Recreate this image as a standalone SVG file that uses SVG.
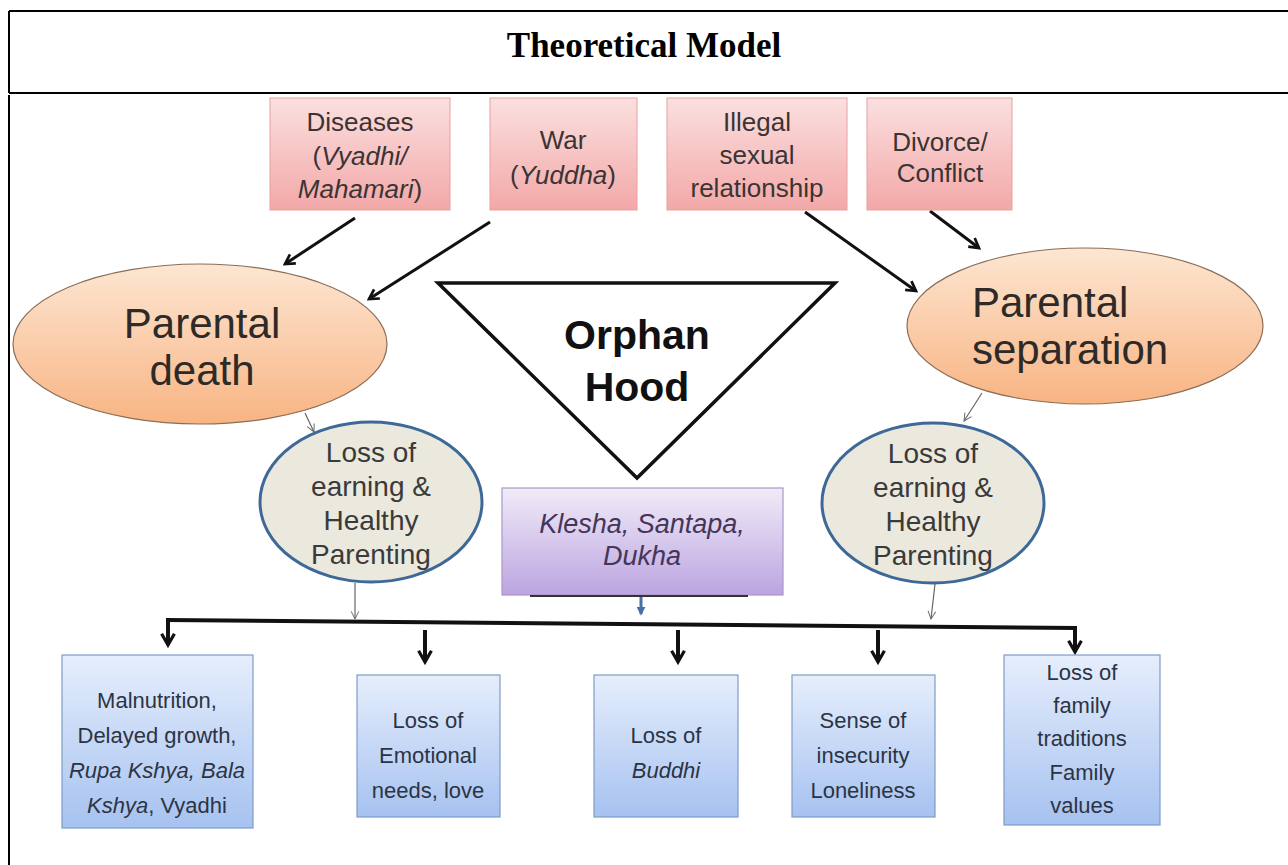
<svg xmlns="http://www.w3.org/2000/svg" width="1288" height="865" viewBox="0 0 1288 865">
<style>
.frame{fill:none;stroke:#000;stroke-width:2}
.title{font-family:"Liberation Serif","Times New Roman",serif;font-weight:bold;font-size:35px;fill:#000}
.t{font-family:"Liberation Sans",Arial,sans-serif;fill:#3a3a3a;text-anchor:middle}
.pk{font-size:26px;fill:#3a3434}
.big{font-size:42px;fill:#2e2a28}
.orph{font-size:41px;font-weight:bold;fill:#111}
.ls{font-size:28px;fill:#3a3a3a}
.kl{font-size:27px;font-style:italic;fill:#45355a}
.bl{font-size:22px;fill:#2c3444}
.i{font-style:italic}
.pink{fill:url(#gPink);stroke:#e8a0a0;stroke-width:1}
.blue{fill:url(#gBlue);stroke:#7e9cc8;stroke-width:1.2}
.arr{fill:none;stroke:#111;stroke-width:3;marker-end:url(#mBlk)}
.arrB{fill:none;stroke:#111;stroke-width:4;marker-end:url(#mBlk2)}
.thin{fill:none;stroke:#666;stroke-width:1.2;marker-end:url(#mThin)}
</style>
<defs>
<linearGradient id="gPink" x1="0" y1="0" x2="0" y2="1"><stop offset="0" stop-color="#fbe0e0"/><stop offset="1" stop-color="#f3a8a8"/></linearGradient>
<linearGradient id="gOrange" x1="0" y1="0" x2="0" y2="1"><stop offset="0" stop-color="#fde6d2"/><stop offset="1" stop-color="#f8b483"/></linearGradient>
<linearGradient id="gPurple" x1="0" y1="0" x2="0" y2="1"><stop offset="0" stop-color="#f1ecf8"/><stop offset="1" stop-color="#bba4e0"/></linearGradient>
<linearGradient id="gBlue" x1="0" y1="0" x2="0" y2="1"><stop offset="0" stop-color="#e6eefc"/><stop offset="1" stop-color="#a6c2f0"/></linearGradient>
<marker id="mBlk" viewBox="0 0 10 10" refX="8" refY="5" markerWidth="4.5" markerHeight="4.5" orient="auto"><path d="M1,1 L8,5 L1,9" fill="none" stroke="#111" stroke-width="2"/></marker>
<marker id="mBlk2" viewBox="0 0 10 10" refX="8" refY="5" markerWidth="4" markerHeight="4" orient="auto"><path d="M1,1 L8,5 L1,9" fill="none" stroke="#111" stroke-width="2"/></marker>
<marker id="mThin" viewBox="0 0 10 10" refX="9" refY="5" markerWidth="8" markerHeight="8" orient="auto"><path d="M1,1 L9,5 L1,9" fill="none" stroke="#666" stroke-width="1"/></marker>
<marker id="mBlue" viewBox="0 0 10 10" refX="8" refY="5" markerWidth="3" markerHeight="3" orient="auto"><path d="M0,0 L10,5 L0,10 Z" fill="#4a6fa5"/></marker>
</defs>
<rect width="1288" height="865" fill="#fff"/>
<g id="frame">
<path class="frame" d="M9,11 H1288 M9,11 V93 M9,93 H1288 M9,95 V865"/>
<text class="title" x="644" y="57" text-anchor="middle">Theoretical Model</text>
</g>
<g id="connectors">
<line class="arr" x1="355" y1="218" x2="285" y2="264"/>
<line class="arr" x1="490" y1="222" x2="369" y2="299"/>
<line class="arr" x1="805" y1="212" x2="916" y2="291"/>
<line class="arr" x1="930" y1="211" x2="979" y2="248"/>
<line class="thin" x1="305" y1="413" x2="314" y2="432"/>
<line class="thin" x1="982" y1="393" x2="964" y2="421"/>
<line class="thin" x1="355" y1="583" x2="355" y2="619"/>
<line class="thin" x1="935" y1="584" x2="931" y2="619"/>
<line x1="641" y1="597" x2="641" y2="614" stroke="#4a6fa5" stroke-width="3" marker-end="url(#mBlue)"/>
<path d="M166,620 L1077,628" fill="none" stroke="#111" stroke-width="4"/>
<line class="arrB" x1="168" y1="620" x2="168" y2="645"/>
<line class="arrB" x1="425" y1="630" x2="425" y2="662"/>
<line class="arrB" x1="678" y1="630" x2="678" y2="662"/>
<line class="arrB" x1="878" y1="630" x2="878" y2="662"/>
<line class="arrB" x1="1075" y1="628" x2="1075" y2="652"/>
</g>
<g id="n-diseases">
<rect class="pink" x="270" y="98" width="180" height="112"/>
<text class="t pk" x="360"><tspan x="360" y="131">Diseases</tspan><tspan x="360" y="165">(<tspan class="i">Vyadhi/</tspan></tspan><tspan x="360" y="198"><tspan class="i">Mahamari</tspan>)</tspan></text>
</g>
<g id="n-war">
<rect class="pink" x="490" y="98" width="147" height="112"/>
<text class="t pk" x="563"><tspan x="563" y="149">War</tspan><tspan x="563" y="184">(<tspan class="i">Yuddha</tspan>)</tspan></text>
</g>
<g id="n-illegal">
<rect class="pink" x="667" y="98" width="180" height="112"/>
<text class="t pk" x="757"><tspan x="757" y="131">Illegal</tspan><tspan x="757" y="164">sexual</tspan><tspan x="757" y="197">relationship</tspan></text>
</g>
<g id="n-divorce">
<rect class="pink" x="867" y="98" width="145" height="112"/>
<text class="t pk" x="940"><tspan x="940" y="151">Divorce/</tspan><tspan x="940" y="182">Conflict</tspan></text>
</g>
<g id="n-parental-death">
<ellipse cx="200" cy="344" rx="187" ry="80" fill="url(#gOrange)" stroke="#8a6e58" stroke-width="1.2"/>
<text class="t big" x="202"><tspan x="202" y="338">Parental</tspan><tspan x="202" y="385">death</tspan></text>
</g>
<g id="n-orphanhood">
<polygon points="438,283 835,283 637,478" fill="#fff" stroke="#111" stroke-width="3.5" stroke-linejoin="miter"/>
<text class="t orph" x="637"><tspan x="637" y="349">Orphan</tspan><tspan x="637" y="401">Hood</tspan></text>
</g>
<g id="n-parental-separation">
<ellipse cx="1085" cy="326" rx="178" ry="78" fill="url(#gOrange)" stroke="#8a6e58" stroke-width="1.2"/>
<text class="t big" style="text-anchor:start"><tspan x="972" y="317">Parental</tspan><tspan x="972" y="364">separation</tspan></text>
</g>
<g id="n-loss-left">
<ellipse cx="371" cy="502" rx="111" ry="80" fill="#ebe8de" stroke="#3d6897" stroke-width="3"/>
<text class="t ls" x="371"><tspan x="371" y="462">Loss of</tspan><tspan x="371" y="496">earning &amp;</tspan><tspan x="371" y="530">Healthy</tspan><tspan x="371" y="564">Parenting</tspan></text>
</g>
<g id="n-loss-right">
<ellipse cx="933" cy="503" rx="111" ry="80" fill="#ebe8de" stroke="#3d6897" stroke-width="3"/>
<text class="t ls" x="933"><tspan x="933" y="463">Loss of</tspan><tspan x="933" y="497">earning &amp;</tspan><tspan x="933" y="531">Healthy</tspan><tspan x="933" y="565">Parenting</tspan></text>
</g>
<g id="n-klesha">
<rect x="502" y="488" width="281" height="107" fill="url(#gPurple)" stroke="#a898c8" stroke-width="1.2"/>
<line x1="530" y1="596" x2="748" y2="596" stroke="#333" stroke-width="2"/>
<text class="t kl" x="642"><tspan x="642" y="533">Klesha, Santapa,</tspan><tspan x="642" y="565">Dukha</tspan></text>
</g>
<g id="n-malnutrition">
<rect class="blue" x="62" y="655" width="191" height="173"/>
<text class="t bl" x="157"><tspan x="157" y="708">Malnutrition,</tspan><tspan x="157" y="743">Delayed growth,</tspan><tspan x="157" y="778" class="i">Rupa Kshya, Bala</tspan><tspan x="157" y="813"><tspan class="i">Kshya</tspan>, Vyadhi</tspan></text>
</g>
<g id="n-emotional">
<rect class="blue" x="357" y="675" width="143" height="142"/>
<text class="t bl" x="428"><tspan x="428" y="728">Loss of</tspan><tspan x="428" y="763">Emotional</tspan><tspan x="428" y="798">needs, love</tspan></text>
</g>
<g id="n-buddhi">
<rect class="blue" x="594" y="675" width="144" height="142"/>
<text class="t bl" x="666"><tspan x="666" y="743">Loss of</tspan><tspan x="666" y="778" class="i">Buddhi</tspan></text>
</g>
<g id="n-insecurity">
<rect class="blue" x="792" y="675" width="143" height="142"/>
<text class="t bl" x="863"><tspan x="863" y="728">Sense of</tspan><tspan x="863" y="763">insecurity</tspan><tspan x="863" y="798">Loneliness</tspan></text>
</g>
<g id="n-family">
<rect class="blue" x="1004" y="655" width="156" height="170"/>
<text class="t bl" x="1082"><tspan x="1082" y="680">Loss of</tspan><tspan x="1082" y="713">family</tspan><tspan x="1082" y="746">traditions</tspan><tspan x="1082" y="780">Family</tspan><tspan x="1082" y="813">values</tspan></text>
</g>
</svg>
